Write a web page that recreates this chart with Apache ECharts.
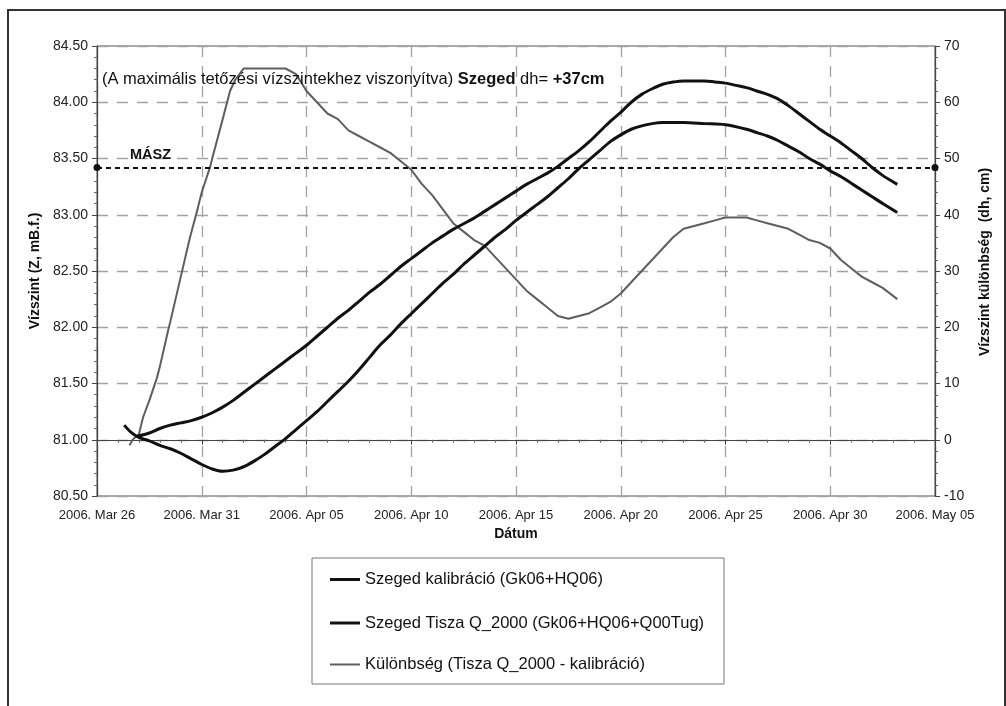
<!DOCTYPE html>
<html>
<head>
<meta charset="utf-8">
<script src="https://cdn.jsdelivr.net/npm/echarts@6/dist/echarts.min.js"></script>
<style>
  html, body { margin: 0; padding: 0; background: #fff; }
  #chart { width: 1006px; height: 706px; }
</style>
</head>
<body>
<div id="chart"></div>
<script>
// X values are days counted from 2006-03-26
const xTickLabels = ['2006. Mar 26', '2006. Mar 31', '2006. Apr 05', '2006. Apr 10', '2006. Apr 15',
  '2006. Apr 20', '2006. Apr 25', '2006. Apr 30', '2006. May 05'];

// Szeged kalibráció (Gk06+HQ06), water level Z [mBf]
const kalibDays = [1.3, 1.6, 2.0, 2.5, 3.0, 3.5, 4.0, 4.5, 5.0, 5.5, 6.0, 6.5, 7.0, 7.5, 8.0, 8.5, 9.0, 9.5,
  10.0, 10.5, 11.0, 11.5, 12.0, 12.5, 13.0, 13.5, 14.0, 14.5, 15.0, 15.5, 16.0, 16.5, 17.0, 17.5, 18.0, 18.5,
  19.0, 19.5, 20.0, 20.5, 21.0, 21.5, 22.0, 22.5, 23.0, 23.5, 24.0, 24.5, 25.0, 25.5, 26.0, 26.5, 27.0, 28.0,
  29.0, 30.0, 31.0, 31.5, 32.0, 32.5, 33.0, 33.5, 34.0, 34.5, 35.0, 35.5, 36.0, 36.5, 37.0, 37.5, 38.2];
const kalibZ = [81.13, 81.07, 81.02, 80.99, 80.95, 80.92, 80.88, 80.83, 80.78, 80.74, 80.72, 80.73, 80.76, 80.81,
  80.87, 80.94, 81.01, 81.09, 81.17, 81.25, 81.34, 81.43, 81.52, 81.62, 81.73, 81.84, 81.93, 82.03, 82.12, 82.21,
  82.30, 82.39, 82.47, 82.56, 82.64, 82.72, 82.80, 82.87, 82.95, 83.02, 83.09, 83.16, 83.24, 83.32, 83.41, 83.49,
  83.57, 83.65, 83.71, 83.76, 83.79, 83.81, 83.82, 83.82, 83.81, 83.80, 83.76, 83.73, 83.70, 83.66, 83.61, 83.56,
  83.50, 83.45, 83.39, 83.34, 83.28, 83.22, 83.16, 83.10, 83.02];

// Szeged Tisza Q_2000 (Gk06+HQ06+Q00Tug), water level Z [mBf]
const q2000Days = [1.9, 2.5, 3.0, 3.5, 4.0, 4.5, 5.0, 5.5, 6.0, 6.5, 7.0, 7.5, 8.0, 8.5, 9.0, 9.5, 10.0, 10.5,
  11.0, 11.5, 12.0, 12.5, 13.0, 13.5, 14.0, 14.5, 15.0, 15.5, 16.0, 16.5, 17.0, 17.5, 18.0, 18.5, 19.0, 19.5,
  20.0, 20.5, 21.0, 21.5, 22.0, 22.5, 23.0, 23.5, 24.0, 24.5, 25.0, 25.5, 26.0, 26.5, 27.0, 27.5, 28.0, 28.5,
  29.0, 29.5, 30.0, 30.5, 31.0, 31.5, 32.0, 32.5, 33.0, 33.5, 34.0, 34.5, 35.0, 35.5, 36.0, 36.5, 37.0, 37.5, 38.2];
const q2000Z = [81.03, 81.06, 81.10, 81.13, 81.15, 81.17, 81.20, 81.24, 81.29, 81.35, 81.42, 81.49, 81.56, 81.63,
  81.70, 81.77, 81.84, 81.92, 82.00, 82.08, 82.15, 82.23, 82.31, 82.38, 82.46, 82.54, 82.61, 82.68, 82.75, 82.81,
  82.87, 82.92, 82.97, 83.03, 83.09, 83.15, 83.21, 83.27, 83.32, 83.37, 83.43, 83.50, 83.57, 83.65, 83.74, 83.83,
  83.91, 84.00, 84.07, 84.12, 84.16, 84.18, 84.19, 84.19, 84.19, 84.18, 84.17, 84.15, 84.13, 84.10, 84.07, 84.03,
  83.97, 83.90, 83.83, 83.76, 83.70, 83.64, 83.57, 83.50, 83.42, 83.35, 83.27];

// Különbség (Tisza Q_2000 - kalibráció), dh [cm]
const diffDays = [1.55, 1.7, 2.0, 2.2, 2.5, 2.86, 3.0, 3.4, 3.5, 4.0, 4.44, 4.8, 5.0, 5.4, 5.5, 6.0, 6.35, 6.6,
  7.0, 7.5, 8.0, 8.5, 9.0, 9.5, 10.0, 10.5, 11.0, 11.5, 12.0, 12.5, 13.0, 13.5, 14.0, 14.5, 15.0, 15.5, 16.0,
  16.5, 17.0, 17.5, 18.0, 18.5, 19.0, 19.5, 20.0, 20.5, 21.0, 21.5, 22.0, 22.5, 23.0, 23.5, 24.0, 24.5, 25.0,
  25.5, 26.0, 26.5, 27.0, 27.5, 28.0, 28.5, 29.0, 29.5, 30.0, 30.5, 31.0, 31.5, 32.0, 32.5, 33.0, 33.5, 34.0,
  34.5, 35.0, 35.5, 36.0, 36.5, 37.0, 37.5, 38.2];
const diffDh = [-1, 0, 1, 4, 7, 11, 13, 19.5, 21, 29, 36, 41, 44, 48.5, 50, 57, 62, 64, 66, 66, 66, 66, 66, 65,
  62, 60, 58, 57, 55, 54, 53, 52, 51, 49.5, 48, 45.5, 43.5, 41, 38.5, 37, 35.5, 34.5, 32.5, 30.5, 28.5, 26.5, 25,
  23.5, 22, 21.5, 22, 22.5, 23.5, 24.5, 26, 28, 30, 32, 34, 36, 37.5, 38, 38.5, 39, 39.5, 39.5, 39.5, 39, 38.5,
  38, 37.5, 36.5, 35.5, 35, 34, 32, 30.5, 29, 28, 27, 25];

// MÁSZ reference level [mBf]
const maszLevel = 83.42;

const NAME_KALIB = 'Szeged kalibráció (Gk06+HQ06)';
const NAME_Q2000 = 'Szeged Tisza Q_2000 (Gk06+HQ06+Q00Tug)';
const NAME_DIFF = 'Különbség (Tisza Q_2000 - kalibráció)';

const zip = (xs, ys) => xs.map((x, i) => [x, ys[i]]);
const FONT = '"Liberation Sans", Arial, sans-serif';
const gridLine = { show: true, lineStyle: { color: '#a3a3a3', width: 1.3, type: [11, 9] } };
const legendText = { fontFamily: FONT, fontSize: 16.5, color: '#111' };

const chart = echarts.init(document.getElementById('chart'), null, { renderer: 'canvas' });
chart.setOption({
  animation: false,
  backgroundColor: '#fff',
  textStyle: { fontFamily: FONT },
  title: {
    left: 97, top: 66,
    text: '(A maximális tetőzési vízszintekhez viszonyítva) {b|Szeged} dh= {b|+37cm}',
    textStyle: {
      fontFamily: FONT, fontSize: 16.5, fontWeight: 'normal', color: '#111',
      rich: { b: { fontFamily: FONT, fontSize: 16.5, fontWeight: 'bold', color: '#111' } }
    }
  },
  grid: { left: 97, right: 71, top: 46, bottom: 210, show: true, borderColor: '#555', borderWidth: 1, backgroundColor: 'transparent' },
  legend: [
    {
      orient: 'vertical', left: 312, top: 571, padding: [0, 18, 0, 18],
      itemGap: 26.5, itemWidth: 30, itemHeight: 3, icon: 'rect',
      textStyle: legendText, data: [NAME_KALIB, NAME_Q2000]
    },
    {
      orient: 'vertical', left: 312, top: 656, padding: [0, 18, 0, 18],
      itemWidth: 30, itemHeight: 2, icon: 'rect',
      textStyle: legendText, data: [NAME_DIFF]
    }
  ],
  xAxis: {
    type: 'value', min: 0, max: 40, interval: 5,
    name: 'Dátum', nameLocation: 'middle', nameGap: 31,
    nameTextStyle: { fontFamily: FONT, fontSize: 14, fontWeight: 'bold', color: '#111' },
    axisLine: { lineStyle: { color: '#444', width: 1.2 } },
    axisTick: { length: 5, lineStyle: { color: '#444' } },
    minorTick: { show: true, splitNumber: 5, length: 3, lineStyle: { color: '#666' } },
    axisLabel: { margin: 13, fontSize: 13, color: '#222', formatter: v => xTickLabels[Math.round(v / 5)] },
    splitLine: gridLine
  },
  yAxis: [
    {
      type: 'value', min: 80.5, max: 84.5, interval: 0.5,
      name: 'Vízszint (Z, mB.f.)', nameLocation: 'middle', nameGap: 48,
      nameTextStyle: { fontFamily: FONT, fontSize: 14, fontWeight: 'bold', color: '#111' },
      axisLine: { show: true, lineStyle: { color: '#444', width: 1.2 } },
      axisTick: { show: true, length: 5, lineStyle: { color: '#444' } },
      minorTick: { show: true, splitNumber: 5, length: 3, lineStyle: { color: '#666' } },
      axisLabel: { margin: 9, fontSize: 14, color: '#222', formatter: v => v.toFixed(2) },
      splitLine: gridLine
    },
    {
      type: 'value', min: -10, max: 70, interval: 10, position: 'right',
      name: 'Vízszint különbség  (dh, cm)', nameLocation: 'middle', nameGap: 43,
      nameTextStyle: { fontFamily: FONT, fontSize: 14, fontWeight: 'bold', color: '#111', padding: [0, 0, 0, 18] },
      axisLine: { show: true, lineStyle: { color: '#444', width: 1.2 } },
      axisTick: { show: true, length: 5, lineStyle: { color: '#444' } },
      minorTick: { show: true, splitNumber: 5, length: 3, lineStyle: { color: '#666' } },
      axisLabel: { margin: 9, fontSize: 14, color: '#222' },
      splitLine: { show: false }
    }
  ],
  graphic: [
    { type: 'rect', shape: { x: 8, y: 10, width: 997, height: 730 }, style: { fill: 'none', stroke: '#333', lineWidth: 2 }, silent: true, z: 0 },
    { type: 'rect', shape: { x: 312, y: 558, width: 412, height: 126 }, style: { fill: 'none', stroke: '#777', lineWidth: 1 }, silent: true, z: 0 },
    { type: 'text', left: 130, top: 147, style: { text: 'MÁSZ', fontFamily: FONT, fontSize: 14.5, fontWeight: 'bold', fill: '#111' }, z: 10 }
  ],
  series: [
    {
      name: NAME_DIFF, type: 'line', yAxisIndex: 1,
      data: zip(diffDays, diffDh), showSymbol: false, symbol: 'none',
      lineStyle: { color: '#5e5e5e', width: 2 }, itemStyle: { color: '#5e5e5e' }, z: 3
    },
    {
      name: NAME_KALIB, type: 'line', yAxisIndex: 0,
      data: zip(kalibDays, kalibZ), showSymbol: false, symbol: 'none', smooth: 0.3,
      lineStyle: { color: '#111', width: 3 }, itemStyle: { color: '#111' }, z: 4,
      markLine: {
        silent: true, symbol: ['circle', 'circle'], symbolSize: 7,
        label: { show: false },
        lineStyle: { color: '#111', width: 2, type: [5, 4] },
        data: [{ yAxis: maszLevel }]
      }
    },
    {
      name: NAME_Q2000, type: 'line', yAxisIndex: 0,
      data: zip(q2000Days, q2000Z), showSymbol: false, symbol: 'none', smooth: 0.3,
      lineStyle: { color: '#111', width: 3 }, itemStyle: { color: '#111' }, z: 4
    }
  ]
});
</script>
</body>
</html>
